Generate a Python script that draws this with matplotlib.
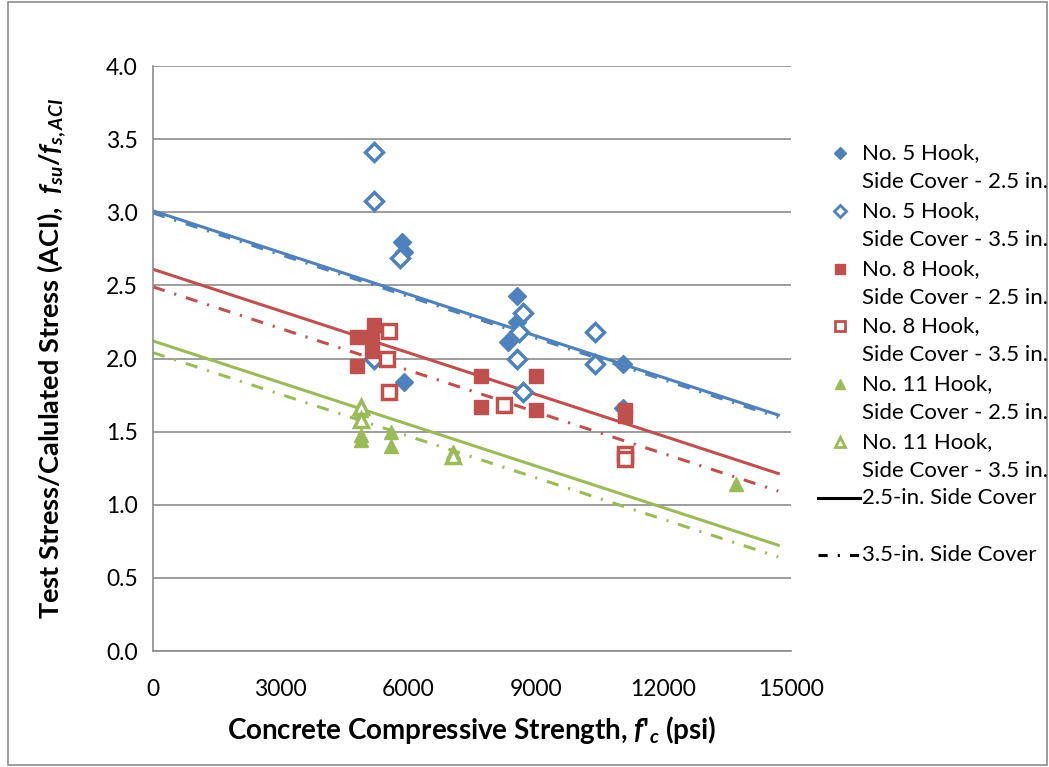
import numpy as np
import matplotlib.pyplot as plt
from matplotlib.lines import Line2D
from matplotlib.patches import Rectangle

plt.rcParams['font.family'] = ['Lato', 'DejaVu Sans']
plt.rcParams['mathtext.fontset'] = 'custom'
plt.rcParams['mathtext.rm'] = 'Lato:bold'
plt.rcParams['mathtext.it'] = 'Lato:bold:italic'
plt.rcParams['mathtext.bf'] = 'Lato:bold'

blue = '#4F81BD'
red = '#C0504D'
green = '#9BBB59'

# No. 5 hook
n5_25_x = [5850, 5900, 8550, 8550, 8350, 11050, 11050, 5900]
n5_25_y = [2.80, 2.73, 2.43, 2.25, 2.11, 1.96, 1.66, 1.84]
n5_35_x = [5200, 5200, 5800, 5200, 8700, 8600, 8550, 8700, 10400, 10400]
n5_35_y = [3.41, 3.08, 2.69, 2.00, 2.31, 2.18, 2.00, 1.77, 2.18, 1.96]

# No. 8 hook
n8_25_x = [4800, 4800, 5200, 5150, 5150, 7700, 7700, 9000, 9000, 11100, 11100]
n8_25_y = [2.15, 1.95, 2.23, 2.15, 2.05, 1.88, 1.67, 1.88, 1.65, 1.65, 1.61]
n8_35_x = [5550, 5500, 5550, 8250, 11100, 11100]
n8_35_y = [2.19, 2.00, 1.77, 1.68, 1.35, 1.31]

# No. 11 hook
n11_25_x = [4900, 4900, 4900, 5600, 5600, 7050, 13700]
n11_25_y = [1.65, 1.48, 1.44, 1.50, 1.40, 1.36, 1.14]
n11_35_x = [4900, 4900, 7050]
n11_35_y = [1.67, 1.58, 1.33]

# fitted lines: intercept at 0 psi, common slope per psi
line_x = np.array([0, 14700])
slope = -9.5e-5
int_25 = {'blue': 3.01, 'red': 2.61, 'green': 2.12}
int_35 = {'blue': 2.995, 'red': 2.49, 'green': 2.04}

W, H = 1049, 767
fig = plt.figure(figsize=(W / 100, H / 100), dpi=100)
ax = fig.add_axes([153 / W, 1 - 651 / H, (791 - 153) / W, (651 - 66) / H])

dashdot = (4, 3.3, 0.7, 3.3)

# regression lines
for name, c in [('blue', blue), ('red', red), ('green', green)]:
    ax.plot(line_x, int_25[name] + slope * line_x, color=c, lw=2.2, zorder=2)
    ax.plot(line_x, int_35[name] + slope * line_x, color=c, lw=2.2,
            dashes=dashdot, zorder=2)

ms = 9
mw = 2.5
ax.plot(n5_25_x, n5_25_y, 'D', color=blue, ms=ms, ls='none', zorder=3)
ax.plot(n5_35_x, n5_35_y, 'D', mfc='white', mec=blue, mew=mw, ms=ms, ls='none', zorder=3)
ax.plot(n8_25_x, n8_25_y, 's', color=red, ms=ms + 1, ls='none', zorder=3)
ax.plot(n8_35_x, n8_35_y, 's', mfc='white', mec=red, mew=mw, ms=ms + 1, ls='none', zorder=3)
ax.plot(n11_25_x, n11_25_y, '^', color=green, ms=ms + 1, ls='none', zorder=3)
ax.plot(n11_35_x, n11_35_y, '^', mfc='white', mec=green, mew=mw, ms=ms + 1, ls='none', zorder=3)

ax.set_xlim(0, 15000)
ax.set_ylim(0, 4.0)
ax.set_xticks(np.arange(0, 15001, 3000))
ax.set_yticks(np.arange(0, 4.01, 0.5))
ax.set_yticklabels([f'{v:.1f}' for v in np.arange(0, 4.01, 0.5)])
ax.tick_params(axis='x', length=0, labelsize=16.5, pad=20)
ax.tick_params(axis='y', length=0, labelsize=16.5, pad=11)
ax.grid(axis='y', color='#8c8c8c', lw=1.2)
ax.set_axisbelow(True)
for s in ['top', 'right']:
    ax.spines[s].set_visible(False)
for s in ['left', 'bottom']:
    ax.spines[s].set_color('#8c8c8c')
    ax.spines[s].set_linewidth(1.2)

ax.set_xlabel("Concrete Compressive Strength, $f$'$_c$ (psi)", fontsize=20,
              fontweight='bold', labelpad=10)
ax.set_ylabel(r'Test Stress/Calulated Stress (ACI),  $f_{su}/f_{s,ACI}$', fontsize=19.5,
              fontweight='bold', labelpad=27)

# legend, drawn by hand in pixel positions of the figure
def fx(px):
    return px / W

def fy(py):
    return 1 - py / H

entries = [
    ('No. 5 Hook,', 'Side Cover - 2.5 in.', dict(marker='D', color=blue, ms=6)),
    ('No. 5 Hook,', 'Side Cover - 3.5 in.', dict(marker='D', mfc='white', mec=blue, mew=2, ms=6)),
    ('No. 8 Hook,', 'Side Cover - 2.5 in.', dict(marker='s', color=red, ms=7)),
    ('No. 8 Hook,', 'Side Cover - 3.5 in.', dict(marker='s', mfc='white', mec=red, mew=2, ms=7)),
    ('No. 11 Hook,', 'Side Cover - 2.5 in.', dict(marker='^', color=green, ms=7)),
    ('No. 11 Hook,', 'Side Cover - 3.5 in.', dict(marker='^', mfc='white', mec=green, mew=2, ms=7)),
]
y0 = 153
step = 57.8
for i, (l1, l2, kw) in enumerate(entries):
    y = y0 + i * step
    fig.add_artist(Line2D([fx(840)], [fy(y)], ls='none', **kw))
    fig.text(fx(862), fy(y), l1, fontsize=16, va='center', ha='left')
    fig.text(fx(862), fy(y + 29), l2, fontsize=16, va='center', ha='left')

fig.add_artist(Line2D([fx(818), fx(860)], [fy(498), fy(498)], color='black', lw=2.2))
fig.text(fx(862), fy(498), '2.5-in. Side Cover', fontsize=16, va='center', ha='left')
fig.add_artist(Line2D([fx(818), fx(860)], [fy(555), fy(555)], color='black', lw=2.2,
                      dashes=(3, 3.3, 0.7, 3.3)))
fig.text(fx(862), fy(555), '3.5-in. Side Cover', fontsize=16, va='center', ha='left')

fig.patches.append(Rectangle((0.008, 0.003), 0.99, 0.994, transform=fig.transFigure,
                             fill=False, ec='#8c8c8c', lw=1.2))

fig.savefig('out.png', dpi=100)
